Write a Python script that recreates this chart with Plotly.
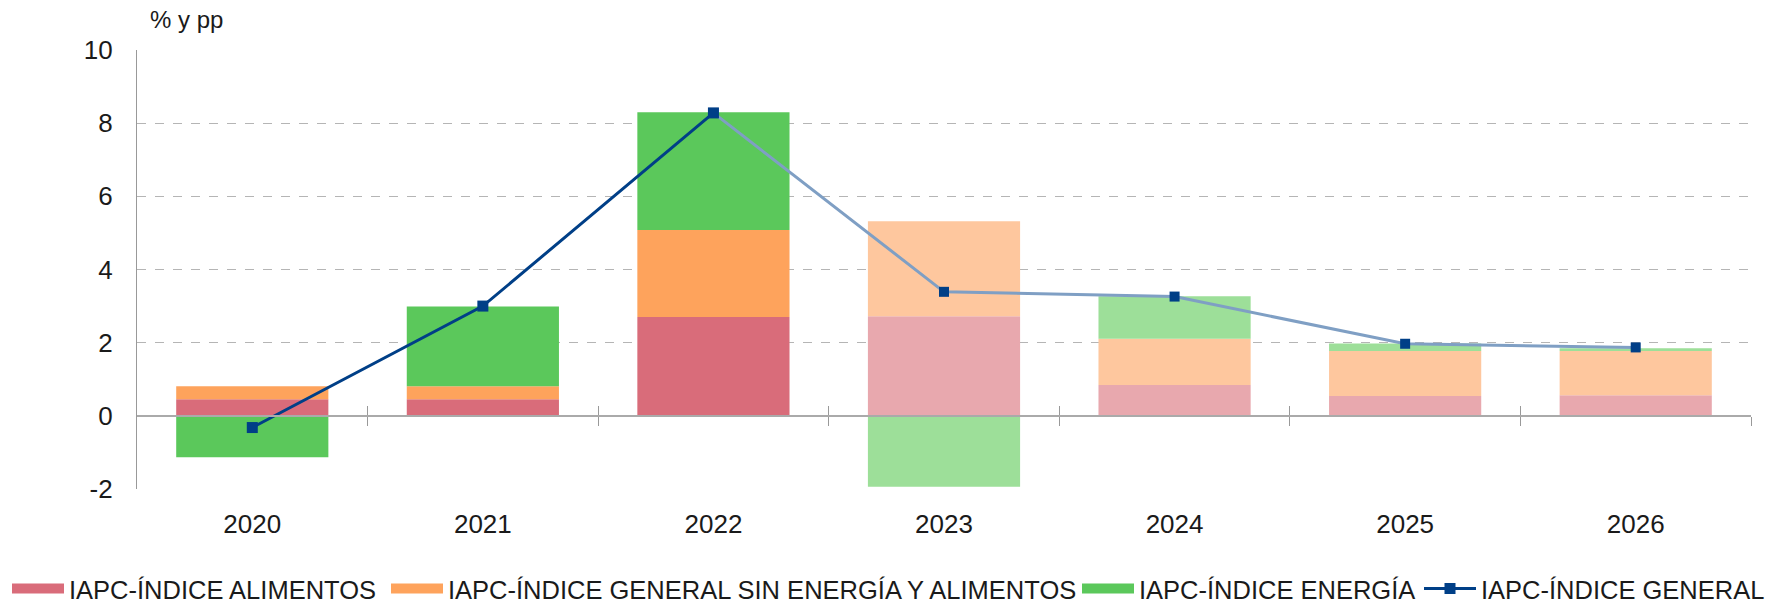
import plotly.graph_objects as go

years = ["2020", "2021", "2022", "2023", "2024", "2025", "2026"]
alimentos = [0.45, 0.45, 2.70, 2.72, 0.84, 0.54, 0.56]
subyacente = [0.36, 0.36, 2.38, 2.60, 1.27, 1.23, 1.21]
energia = [-1.13, 2.18, 3.22, -1.94, 1.16, 0.21, 0.08]
general = [-0.32, 3.00, 8.28, 3.39, 3.26, 1.97, 1.87]
projection = [False, False, False, True, True, True, True]
y_ticks = [-2, 0, 2, 4, 6, 8, 10]
y_ticklabels = ["-2", "0", "2", "4", "6", "8", "10"]

names = ["IAPC-ÍNDICE ALIMENTOS", "IAPC-ÍNDICE GENERAL SIN ENERGÍA Y ALIMENTOS",
         "IAPC-ÍNDICE ENERGÍA", "IAPC-ÍNDICE GENERAL"]

solid = ["#d96c7a", "#fea35c", "#5bc85b"]
faded = ["#e8a8ae", "#fec79e", "#9ddf99"]
navy = "#003f87"
light_line = "#7f9fc4"

FONT = "Liberation Sans, Arial, Helvetica, sans-serif"
W, H = 1766, 602
legend_ids = ["legend", "legend2", "legend3", "legend4"]
legend_x_px = [7, 386, 1077, 1419]

fig = go.Figure()
for i, vals in enumerate([alimentos, subyacente, energia]):
    cols = [faded[i] if p else solid[i] for p in projection]
    fig.add_trace(go.Bar(x=years, y=vals, name=names[i], marker=dict(color=cols, line=dict(width=0)),
                         showlegend=False))
    # legend swatch (wide rectangle, as in the reference)
    fig.add_trace(go.Scatter(x=[None], y=[None], mode="lines", name=names[i],
                             line=dict(color=solid[i], width=15), legend=legend_ids[i]))

hist_idx = [i for i, p in enumerate(projection) if not p]
last_hist = hist_idx[-1]
fig.add_trace(go.Scatter(x=years[last_hist:], y=general[last_hist:], mode="lines+markers",
                         line=dict(color=light_line, width=3),
                         marker=dict(symbol="square", size=10, color=navy),
                         showlegend=False))
fig.add_trace(go.Scatter(x=years[:last_hist + 1], y=general[:last_hist + 1], mode="lines+markers",
                         name=names[3], line=dict(color=navy, width=3),
                         marker=dict(symbol="square", size=11, color=navy), legend=legend_ids[3]))

# invisible traces to activate the overlay axes carrying the boundary ticks
fig.add_trace(go.Scatter(x=[0], y=[0], xaxis="x2", mode="markers", marker=dict(opacity=0),
                         showlegend=False, hoverinfo="skip"))
fig.add_trace(go.Scatter(x=[0], y=[0], xaxis="x3", mode="markers", marker=dict(opacity=0),
                         showlegend=False, hoverinfo="skip"))

boundary_ticks = [k + 0.5 for k in range(len(years))]
layout_legends = {}
for lid, px in zip(legend_ids, legend_x_px):
    layout_legends[lid] = dict(orientation="h", xref="container", x=px / W, xanchor="left",
                               yref="container", y=(H - 589) / H, yanchor="middle",
                               font=dict(size=25.5, color="#1a1a1a"), itemwidth=52,
                               bgcolor="rgba(0,0,0,0)")

fig.update_layout(
    width=W, height=H,
    margin=dict(l=137, r=15, t=50, b=113, autoexpand=False),
    barmode="relative", bargap=0.34,
    plot_bgcolor="white", paper_bgcolor="white",
    font=dict(family=FONT, size=26, color="#1a1a1a"),
    xaxis=dict(type="category", showline=False, showgrid=False, ticks="", ticklabelstandoff=17,
               tickfont=dict(size=26), range=[-0.5, 6.5], automargin=False),
    xaxis2=dict(overlaying="x", anchor="free", position=1 / 6, range=[-0.5, 6.5],
                tickvals=boundary_ticks, showticklabels=False,
                ticks="inside", ticklen=9, tickcolor="#999999", tickwidth=1.2,
                showline=True, linecolor="#aaaaaa", linewidth=2, showgrid=False, zeroline=False,
                automargin=False),
    xaxis3=dict(overlaying="x", anchor="free", position=1 / 6, range=[-0.5, 6.5],
                tickvals=boundary_ticks, showticklabels=False,
                ticks="outside", ticklen=9, tickcolor="#999999", tickwidth=1.2,
                showline=False, showgrid=False, zeroline=False, automargin=False),
    yaxis=dict(range=[-2, 10], tickvals=y_ticks, ticktext=y_ticklabels, showgrid=True,
               gridcolor="#b5b5b5", griddash="dash", gridwidth=1, zeroline=False,
               showline=True, linecolor="#999999", linewidth=1.2,
               ticks="", ticklabelstandoff=18, tickfont=dict(size=26), automargin=False),
    annotations=[dict(text="% y pp", xref="paper", yref="paper", x=0.007, y=1.069,
                      xanchor="left", yanchor="middle", showarrow=False,
                      font=dict(size=24, family=FONT))],
    **layout_legends,
)

fig.write_html("out.html", config={"displayModeBar": False},
               post_script="document.body.style.margin='0';")
